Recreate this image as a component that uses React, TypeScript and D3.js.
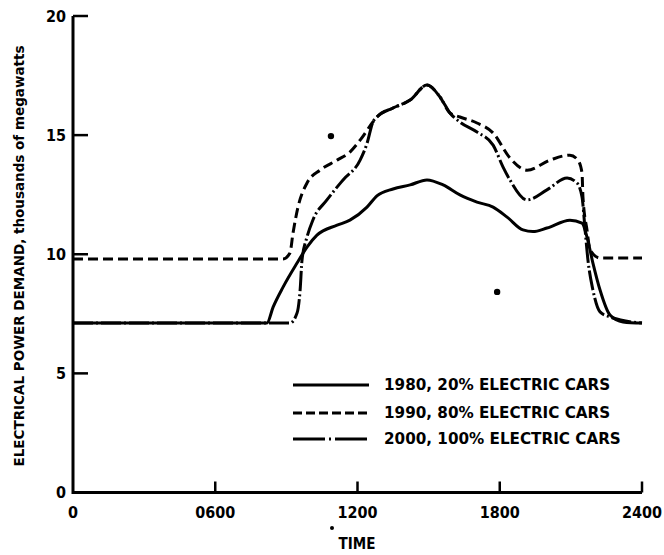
import React from "react";
import * as d3 from "d3";

const xTicks = [0, 600, 1200, 1800, 2400];
const xTickLabels = ["0", "0600", "1200", "1800", "2400"];
const yTicks = [0, 5, 10, 15, 20];

const series1980: [number, number][] = [
  [0, 7.11], [818, 7.11], [844, 7.78], [886, 8.62], [945, 9.63], [987, 10.3], [1029, 10.8],
  [1114, 11.22], [1168, 11.43], [1240, 11.98], [1282, 12.45], [1350, 12.74], [1422, 12.91],
  [1493, 13.12], [1561, 12.91], [1632, 12.49], [1704, 12.19], [1772, 11.98], [1831, 11.56],
  [1898, 11.02], [1940, 10.95], [1999, 11.1], [2096, 11.43], [2147, 11.31], [2168, 10.72],
  [2193, 9.63], [2223, 8.5], [2265, 7.45], [2320, 7.16], [2400, 7.11],
];

const series1990: [number, number][] = [
  [0, 9.8], [886, 9.8], [915, 10.05], [928, 10.89], [949, 11.98], [987, 12.99], [1042, 13.53],
  [1114, 13.95], [1168, 14.29], [1211, 14.79], [1265, 15.55], [1282, 15.76], [1350, 16.14],
  [1422, 16.47], [1493, 17.1], [1548, 16.6], [1590, 15.93], [1632, 15.76], [1704, 15.51],
  [1772, 15.09], [1843, 14.04], [1915, 13.53], [2012, 13.95], [2096, 14.16], [2130, 13.95],
  [2147, 13.41], [2151, 12.4], [2168, 11.02], [2181, 10.18], [2223, 9.84], [2400, 9.84],
];

const series2000: [number, number][] = [
  [0, 7.11], [915, 7.11], [945, 7.53], [958, 8.5], [966, 9.76], [987, 10.72], [1012, 11.44],
  [1071, 12.28], [1139, 13.12], [1211, 13.95], [1240, 14.65], [1265, 15.55], [1282, 15.76],
  [1350, 16.14], [1422, 16.47], [1493, 17.1], [1548, 16.6], [1590, 15.93], [1632, 15.55],
  [1704, 15.13], [1772, 14.58], [1814, 13.66], [1843, 13.12], [1915, 12.28], [1999, 12.7],
  [2084, 13.2], [2126, 12.99], [2147, 12.4], [2160, 11.02], [2172, 9.76], [2193, 8.5],
  [2223, 7.58], [2265, 7.37], [2400, 7.11],
];

const legendLabels = [
  "1980, 20% ELECTRIC CARS",
  "1990, 80% ELECTRIC CARS",
  "2000, 100% ELECTRIC CARS",
];

const specks: [number, number][] = [[1088, 14.96], [1789, 8.42]];

const FONT_C = "'DejaVu Sans Condensed', 'DejaVu Sans', sans-serif";
const FONT = "'DejaVu Sans', sans-serif";

export default function App() {
  const x = d3.scaleLinear().domain([0, 2400]).range([73, 642]);
  const y = d3.scaleLinear().domain([0, 20]).range([492.5, 16]);
  const line = d3
    .line<[number, number]>()
    .x((d) => x(d[0]))
    .y((d) => y(d[1]))
    .curve(d3.curveMonotoneX);

  const styles = [
    { dash: "none" },
    { dash: "10 5" },
    { dash: "20 3 2 3" },
  ];
  const data = [series1980, series1990, series2000];
  const legendDash = ["none", "9 4", "32 4 2 4"];

  return (
    <svg
      width={664}
      height={555}
      style={{ position: "absolute", left: 0, top: 0, background: "#fff" }}
    >
      {/* axes */}
      <path
        d={`M${x(0)},${y(20)} V${y(0)} H${x(2400)}`}
        fill="none"
        stroke="#000"
        strokeWidth={3}
      />
      {yTicks.map((t) => (
        <g key={"y" + t}>
          {t > 0 && (
            <line x1={x(0)} x2={x(0) + 15} y1={y(t)} y2={y(t)} stroke="#000" strokeWidth={2.5} />
          )}
          <text
            x={66}
            y={y(t)}
            textAnchor="end"
            dominantBaseline="central"
            fontFamily={FONT_C}
            fontWeight="bold"
            fontSize={16}
          >
            {t}
          </text>
        </g>
      ))}
      {xTicks.map((t, i) => (
        <g key={"x" + t}>
          {t > 0 && (
            <line x1={x(t)} x2={x(t)} y1={y(0)} y2={y(0) - 11} stroke="#000" strokeWidth={2.5} />
          )}
          <text
            x={x(t)}
            y={512}
            textAnchor="middle"
            dominantBaseline="central"
            fontFamily={FONT_C}
            fontWeight="bold"
            fontSize={16}
          >
            {xTickLabels[i]}
          </text>
        </g>
      ))}
      <text
        x={357}
        y={544}
        textAnchor="middle"
        dominantBaseline="central"
        fontFamily={FONT_C}
        fontWeight="bold"
        fontSize={15}
      >
        TIME
      </text>
      <circle cx={332} cy={528} r={2} fill="#000" />
      <text
        transform={`translate(19,256) rotate(-90)`}
        textAnchor="middle"
        dominantBaseline="central"
        fontFamily={FONT}
        fontWeight="bold"
        fontSize={13.5}
      >
        ELECTRICAL POWER DEMAND, thousands of megawatts
      </text>

      {/* series */}
      {data.map((s, i) => (
        <path
          key={"s" + i}
          d={line(s) || ""}
          fill="none"
          stroke="#000"
          strokeWidth={3}
          strokeDasharray={styles[i].dash}
          strokeLinecap="butt"
        />
      ))}
      {specks.map((p, i) => (
        <circle key={"p" + i} cx={x(p[0])} cy={y(p[1])} r={3.2} fill="#000" />
      ))}

      {/* legend */}
      {legendLabels.map((l, i) => {
        const ly = [385, 413, 439][i];
        return (
          <g key={"l" + i}>
            <line
              x1={293}
              x2={369}
              y1={ly}
              y2={ly}
              stroke="#000"
              strokeWidth={3}
              strokeDasharray={legendDash[i]}
            />
            <text
              x={384}
              y={ly}
              dominantBaseline="central"
              fontFamily={FONT}
              fontWeight="bold"
              fontSize={15.2}
            >
              {l}
            </text>
          </g>
        );
      })}
    </svg>
  );
}
